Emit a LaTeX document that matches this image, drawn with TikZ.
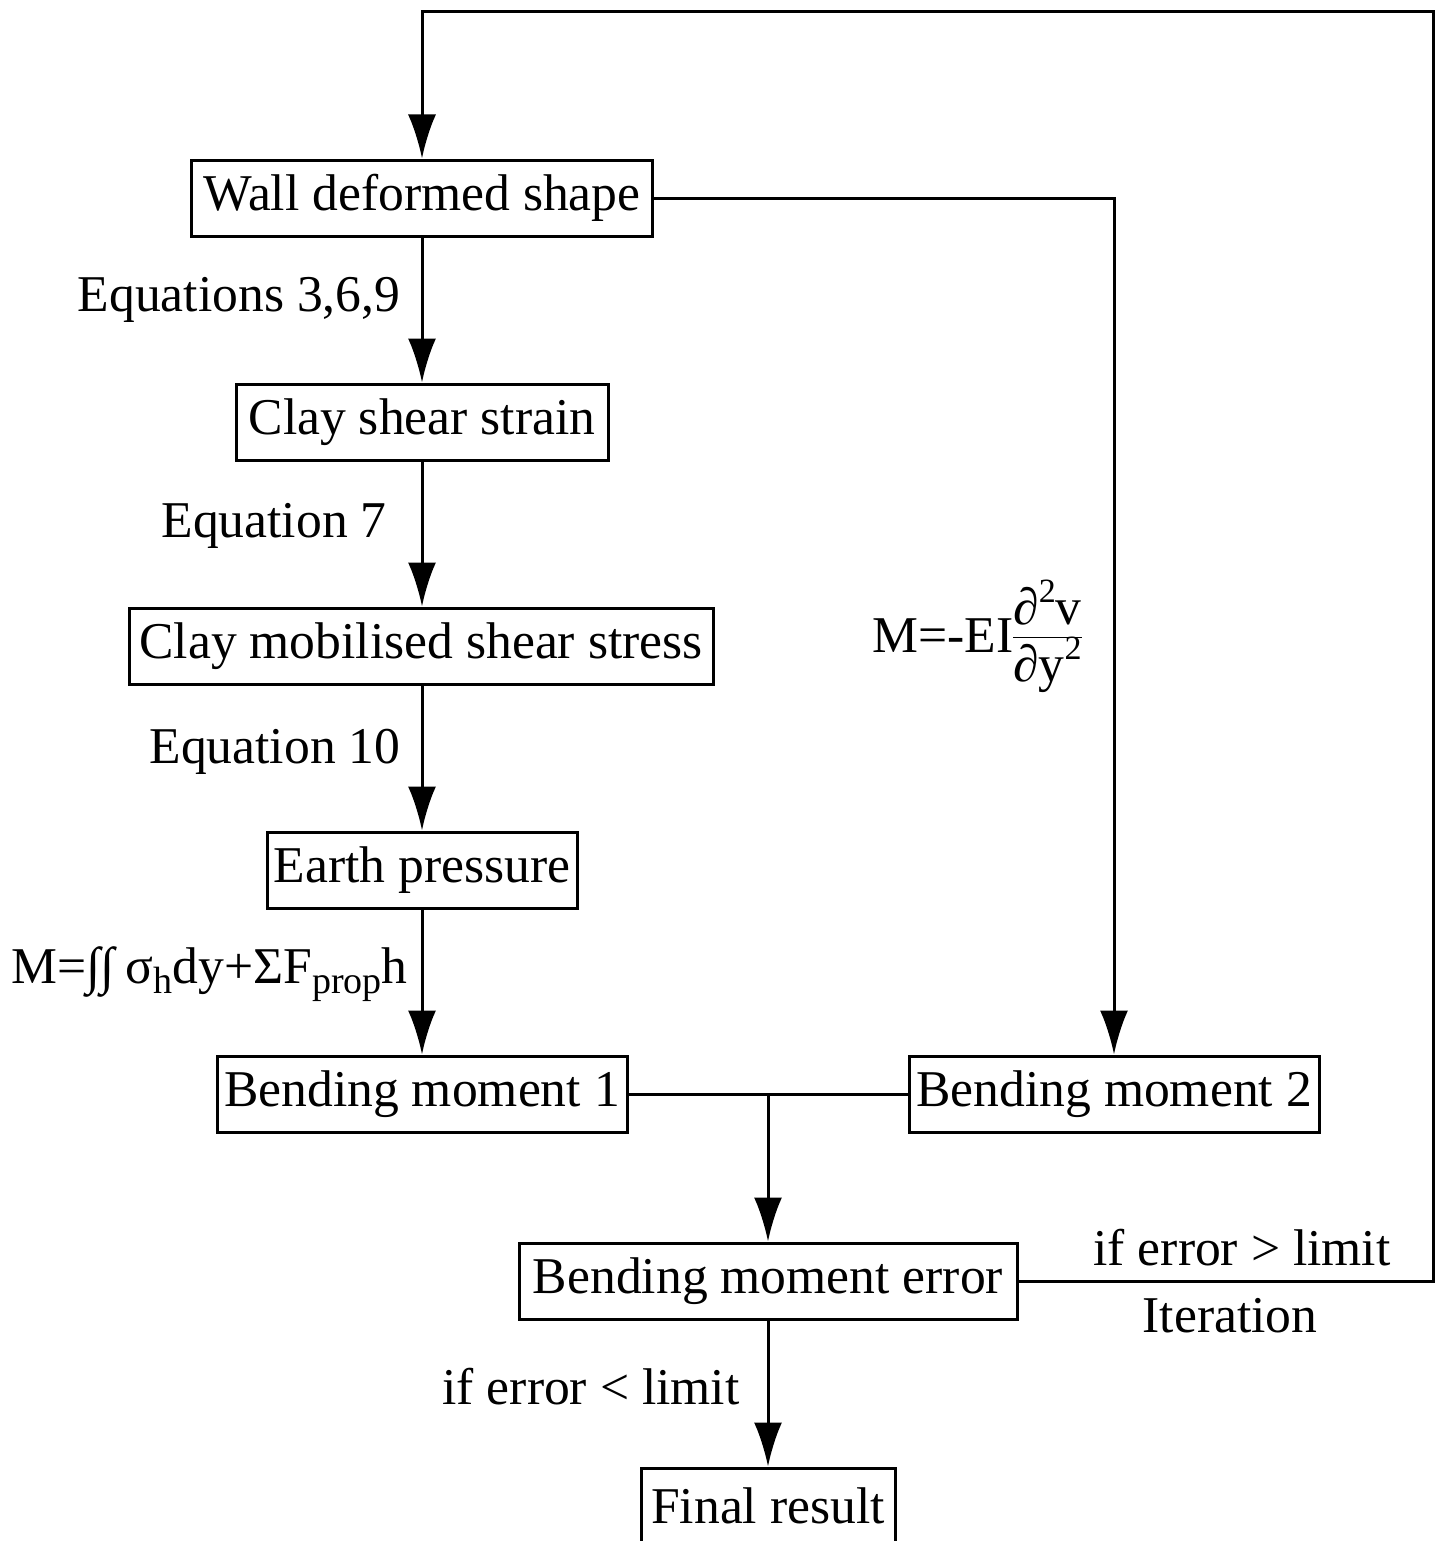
\documentclass[tikz,border=0pt]{standalone}
\usepackage{fontspec}
\setmainfont{Liberation Serif}
\usetikzlibrary{arrows.meta}
\newcommand{\fsz}{\fontsize{25.8pt}{31pt}\selectfont}
\newcommand{\mysub}[1]{\raisebox{-0.45ex}{\fontsize{19pt}{20pt}\selectfont #1}}
\newcommand{\mysup}[1]{\raisebox{0.9ex}{\fontsize{17pt}{18pt}\selectfont #1}}
\begin{document}
\begin{tikzpicture}[x=0.5pt,y=-0.5pt,
  box/.style={draw,line width=1.5pt,minimum height=38pt,inner sep=0pt,font=\fsz},
  lbl/.style={inner sep=0pt,font=\fsz},
  ln/.style={line width=1.5pt},
  arr/.style={line width=1.5pt,-{Latex[length=22pt,width=14pt]}}]
\useasboundingbox (0,0) rectangle (1440,1541);
\fill[white] (0,0) rectangle (1440,1541);
% boxes
\node[box,minimum width=230.5pt] (wall) at (422,198) {Wall deformed shape};
\node[box,minimum width=186pt] (css) at (422,422) {Clay shear strain};
\node[box,minimum width=292pt] (cms) at (421,646) {Clay mobilised shear stress};
\node[box,minimum width=155pt] (ep) at (422,870) {Earth pressure};
\node[box,minimum width=205pt] (bm1) at (422,1094) {Bending moment 1};
\node[box,minimum width=205pt] (bm2) at (1114,1094) {Bending moment 2};
\node[box,minimum width=249pt] (bme) at (768,1281) {Bending moment error};
\node[box,minimum width=127pt] (fin) at (768,1506) {Final result};
% labels
\node[lbl] (l1) at (239,300) {Equations 3,6,9};
\node[lbl] (l2) at (274,526) {Equation 7};
\node[lbl] (l3) at (275,752) {Equation 10};
\node[lbl,anchor=base east] (l4) at (408,983) {M=\textit{∫∫}\,σ\mysub{h}dy+ΣF\mysub{prop}h};
\node[lbl] (l5) at (977,640) {M=-EI\begin{tabular}[c]{@{}c@{}}∂\mysup{2}v\\[-3pt]\hline\rule{0pt}{20pt}∂y\mysup{2}\end{tabular}};
\node[lbl] (l6) at (1242,1248) {if error > limit};
\node[lbl] (l7) at (1230,1316) {Iteration};
\node[lbl] (l8) at (591,1387) {if error < limit};
% connectors
\draw[arr] (wall.south) -- (css.north);
\draw[arr] (css.south) -- (css.south |- cms.north);
\draw[arr] (css.south |- cms.south) -- (ep.north);
\draw[arr] (ep.south) -- (bm1.north);
\draw[arr] (wall.east) -| (bm2.north);
\coordinate (j) at (768,1094);
\draw[ln] (bm1.east) -- (bm2.west);
\draw[arr] (j) -- (bme.north);
\draw[arr] (bme.south) -- (fin.north);
\coordinate (c1) at (1433,1281);
\coordinate (c2) at (1433,12);
\coordinate (c3) at (422,12);
\draw[arr] (bme.east) -- (c1) -- (c2) -- (c3) -- (wall.north);
\end{tikzpicture}
\end{document}
